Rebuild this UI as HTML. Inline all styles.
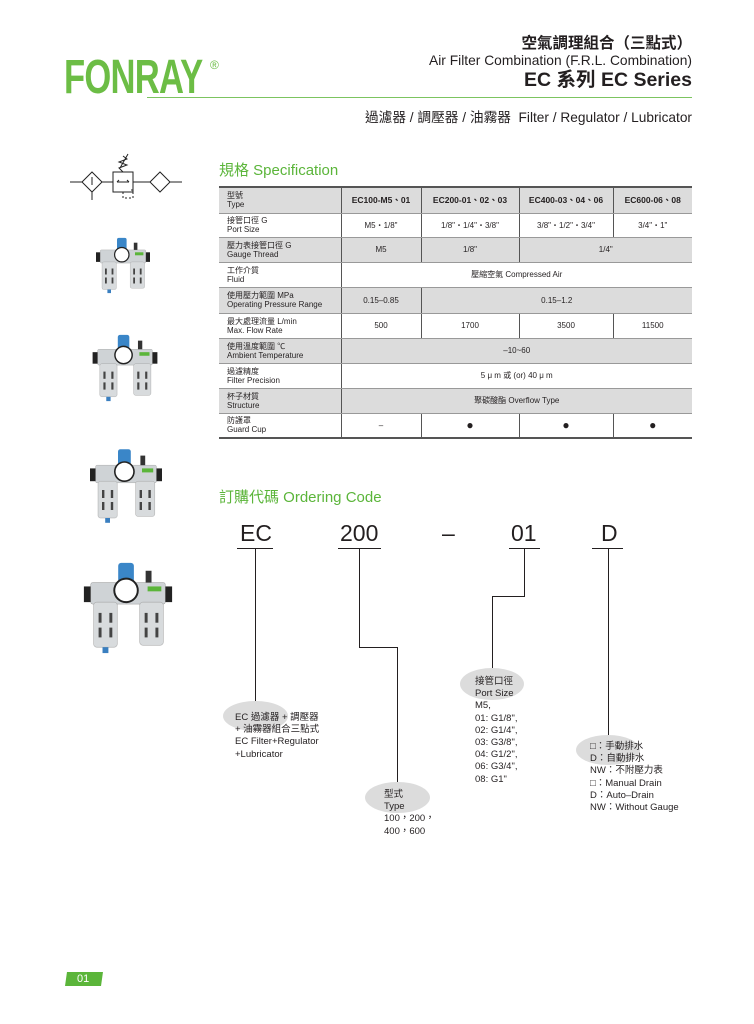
<!DOCTYPE html>
<html><head><meta charset="utf-8">
<style>
body{margin:0;width:754px;height:1024px;position:relative;background:#fff;font-family:"Liberation Sans","Noto Sans CJK TC",sans-serif;color:#231f20;overflow:hidden}
.a{position:absolute;white-space:nowrap}
table{position:absolute;left:219px;top:186px;width:473px;table-layout:fixed;border-collapse:collapse;font-size:8px;border-top:2px solid #555;border-bottom:2px solid #555}
td{padding:0;border-bottom:1px solid #999;border-left:1px solid #555;line-height:9px;text-align:center;overflow:hidden;white-space:nowrap}
td.l{text-align:left;border-left:none;padding-left:8px}
tr.g td{background:#dcdcdc}
th{font-size:8.5px;font-weight:bold;background:#dcdcdc;border-left:1px solid #555;border-bottom:1px solid #999;padding:0;white-space:nowrap;overflow:hidden}
.big{font-size:23px;top:520px}
.ul{position:absolute;height:1px;background:#231f20}
.v{position:absolute;width:1px;background:#231f20}
.h{position:absolute;height:1px;background:#231f20}
.e{position:absolute;background:#dcdcdc;border-radius:50%}
.t{position:absolute;font-size:9.5px;line-height:12.2px;white-space:nowrap}
</style></head><body>
<div class="a" style="left:64px;top:50px;font-size:48px;line-height:56px;color:#6cbd45;font-weight:bold;letter-spacing:-1px;transform:scaleX(0.72);transform-origin:0 0">FONRAY</div>
<div class="a" style="left:210px;top:58px;font-size:12px;color:#6cbd45">®</div>
<div class="a" style="right:62px;top:35px;font-size:15.5px;line-height:17px;font-weight:bold">空氣調理組合（三點式）</div>
<div class="a" style="right:62px;top:53px;font-size:13.8px;line-height:16px">Air Filter Combination (F.R.L. Combination)</div>
<div class="a" style="right:62px;top:69px;font-size:19.5px;line-height:22px;font-weight:bold">EC 系列 EC Series</div>
<div class="a" style="left:147px;top:97px;width:545px;height:1px;background:#7cc460"></div>
<div class="a" style="right:62px;top:106px;font-size:13.7px">過濾器 / 調壓器 / 油霧器&nbsp; Filter / Regulator / Lubricator</div>

<div class="a" style="left:219px;top:159px;font-size:15px;color:#5bb53a">規格 Specification</div>
<div class="a" style="left:219px;top:486px;font-size:15px;color:#5bb53a">訂購代碼 Ordering Code</div>

<table>
<colgroup><col style="width:122px"><col style="width:80px"><col style="width:98px"><col style="width:94px"><col style="width:79px"></colgroup>
<tr style="height:26px"><td class="l" style="background:#dcdcdc">型號<br>Type</td><th>EC100-M5、01</th><th>EC200-01、02、03</th><th>EC400-03、04、06</th><th>EC600-06、08</th></tr>
<tr style="height:24px"><td class="l">接管口徑 G<br>Port Size</td><td>M5・1/8"</td><td>1/8"・1/4"・3/8"</td><td>3/8"・1/2"・3/4"</td><td>3/4"・1"</td></tr>
<tr class="g" style="height:25px"><td class="l">壓力表接管口徑 G<br>Gauge Thread</td><td>M5</td><td>1/8"</td><td colspan="2">1/4"</td></tr>
<tr style="height:25px"><td class="l">工作介質<br>Fluid</td><td colspan="4">壓縮空氣 Compressed Air</td></tr>
<tr class="g" style="height:26px"><td class="l">使用壓力範圍 MPa<br>Operating Pressure Range</td><td>0.15–0.85</td><td colspan="3">0.15–1.2</td></tr>
<tr style="height:25px"><td class="l">最大處理流量 L/min<br>Max. Flow Rate</td><td>500</td><td>1700</td><td>3500</td><td>11500</td></tr>
<tr class="g" style="height:25px"><td class="l">使用溫度範圍 ℃<br>Ambient Temperature</td><td colspan="4">–10~60</td></tr>
<tr style="height:25px"><td class="l">過濾精度<br>Filter Precision</td><td colspan="4">5 μ m 或 (or) 40 μ m</td></tr>
<tr class="g" style="height:25px"><td class="l">杯子材質<br>Structure</td><td colspan="4">聚碳酸酯 Overflow Type</td></tr>
<tr style="height:25px"><td class="l">防護罩<br>Guard Cup</td><td>–</td><td style="font-size:12px">●</td><td style="font-size:12px">●</td><td style="font-size:12px">●</td></tr>
</table>

<div class="a big" style="left:240px">EC</div>
<div class="a big" style="left:340px">200</div>
<div class="a big" style="left:442px">–</div>
<div class="a big" style="left:511px">01</div>
<div class="a big" style="left:601px">D</div>
<div class="ul" style="left:237px;top:548px;width:36px"></div>
<div class="ul" style="left:338px;top:548px;width:43px"></div>
<div class="ul" style="left:509px;top:548px;width:31px"></div>
<div class="ul" style="left:592px;top:548px;width:31px"></div>
<div class="e" style="left:223px;top:701px;width:65px;height:30px"></div>
<div class="e" style="left:365px;top:782px;width:65px;height:31px"></div>
<div class="e" style="left:460px;top:668px;width:64px;height:32px"></div>
<div class="e" style="left:576px;top:735px;width:64px;height:30px"></div>
<div class="v" style="left:255px;top:548px;height:153px"></div>
<div class="v" style="left:359px;top:548px;height:99px"></div>
<div class="h" style="left:359px;top:647px;width:39px"></div>
<div class="v" style="left:397px;top:647px;height:135px"></div>
<div class="v" style="left:524px;top:548px;height:48px"></div>
<div class="h" style="left:492px;top:596px;width:33px"></div>
<div class="v" style="left:492px;top:596px;height:72px"></div>
<div class="v" style="left:608px;top:548px;height:187px"></div>
<div class="t" style="left:235px;top:712px">EC 過濾器 + 調壓器<br>+ 油霧器組合三點式<br>EC Filter+Regulator<br>+Lubricator</div>
<div class="t" style="left:384px;top:789px">型式<br>Type<br>100，200，<br>400，600</div>
<div class="t" style="left:475px;top:676px">接管口徑<br>Port Size<br>M5,<br>01: G1/8",<br>02: G1/4",<br>03: G3/8",<br>04: G1/2",<br>06: G3/4",<br>08: G1"</div>
<div class="t" style="left:590px;top:741px">□：手動排水<br>D：自動排水<br>NW：不附壓力表<br>□：Manual Drain<br>D：Auto–Drain<br>NW：Without Gauge</div>

<svg class="a" style="left:70px;top:152px" width="120" height="52" viewBox="0 0 120 52" fill="none" stroke="#222" stroke-width="1">
<line x1="0" y1="30" x2="12" y2="30"/><polygon points="12,30 22,20 32,30 22,40"/><line x1="22" y1="25" x2="22" y2="33"/><line x1="22" y1="40" x2="22" y2="48"/>
<line x1="32" y1="30" x2="43" y2="30"/><rect x="43" y="20" width="20" height="20"/>
<path d="M47 30h12M47 30l2-2M59 30l-2-2" /><path d="M53 20l-4-4 8-3-8-3 8-3-4-3M50 16l8-14" />
<path d="M53 40v6h10v-8h-2" stroke-dasharray="2,2"/>
<line x1="63" y1="30" x2="80" y2="30"/><polygon points="80,30 90,20 100,30 90,40"/><line x1="100" y1="30" x2="112" y2="30"/>
</svg>

<svg width="0" height="0" style="position:absolute">
<defs>
<symbol id="frl" viewBox="0 0 100 100">
<rect x="5" y="28" width="10" height="16" fill="#222"/><rect x="85" y="28" width="10" height="16" fill="#222"/>
<rect x="12" y="24" width="76" height="22" rx="2" fill="#cfd3d6" stroke="#999" stroke-width=".5"/>
<rect x="15" y="44" width="24" height="46" rx="3" fill="#d8dbdd" stroke="#999" stroke-width=".5"/>
<rect x="62" y="44" width="24" height="44" rx="3" fill="#d8dbdd" stroke="#999" stroke-width=".5"/>
<rect x="20" y="55" width="3" height="10" fill="#444"/><rect x="31" y="55" width="3" height="10" fill="#444"/>
<rect x="20" y="70" width="3" height="10" fill="#444"/><rect x="31" y="70" width="3" height="10" fill="#444"/>
<rect x="67" y="55" width="3" height="10" fill="#444"/><rect x="78" y="55" width="3" height="10" fill="#444"/>
<rect x="67" y="70" width="3" height="10" fill="#444"/><rect x="78" y="70" width="3" height="10" fill="#444"/>
<rect x="24" y="90" width="6" height="6" fill="#3a7fc0"/>
<rect x="40" y="4" width="16" height="20" rx="3" fill="#3a86c8"/>
<circle cx="48" cy="32" r="13" fill="#222"/><circle cx="48" cy="32" r="11" fill="#fff"/>
<rect x="68" y="12" width="6" height="12" fill="#333"/><rect x="70" y="28" width="14" height="5" fill="#5bb53a"/>
</symbol>
</defs></svg>
<svg class="a" style="left:93px;top:228px" width="60" height="75"><use href="#frl"/></svg>
<svg class="a" style="left:89px;top:322px" width="72" height="92"><use href="#frl"/></svg>
<svg class="a" style="left:86px;top:435px" width="80" height="102"><use href="#frl"/></svg>
<svg class="a" style="left:79px;top:556px" width="98" height="104"><use href="#frl"/></svg>

<div class="a" style="left:66px;top:972px;width:36px;height:14px;background:#5bb53a;transform:skewX(-8deg)"></div>
<div class="a" style="left:77px;top:972px;font-size:11px;color:#fff;line-height:14px">01</div>
</body></html>
